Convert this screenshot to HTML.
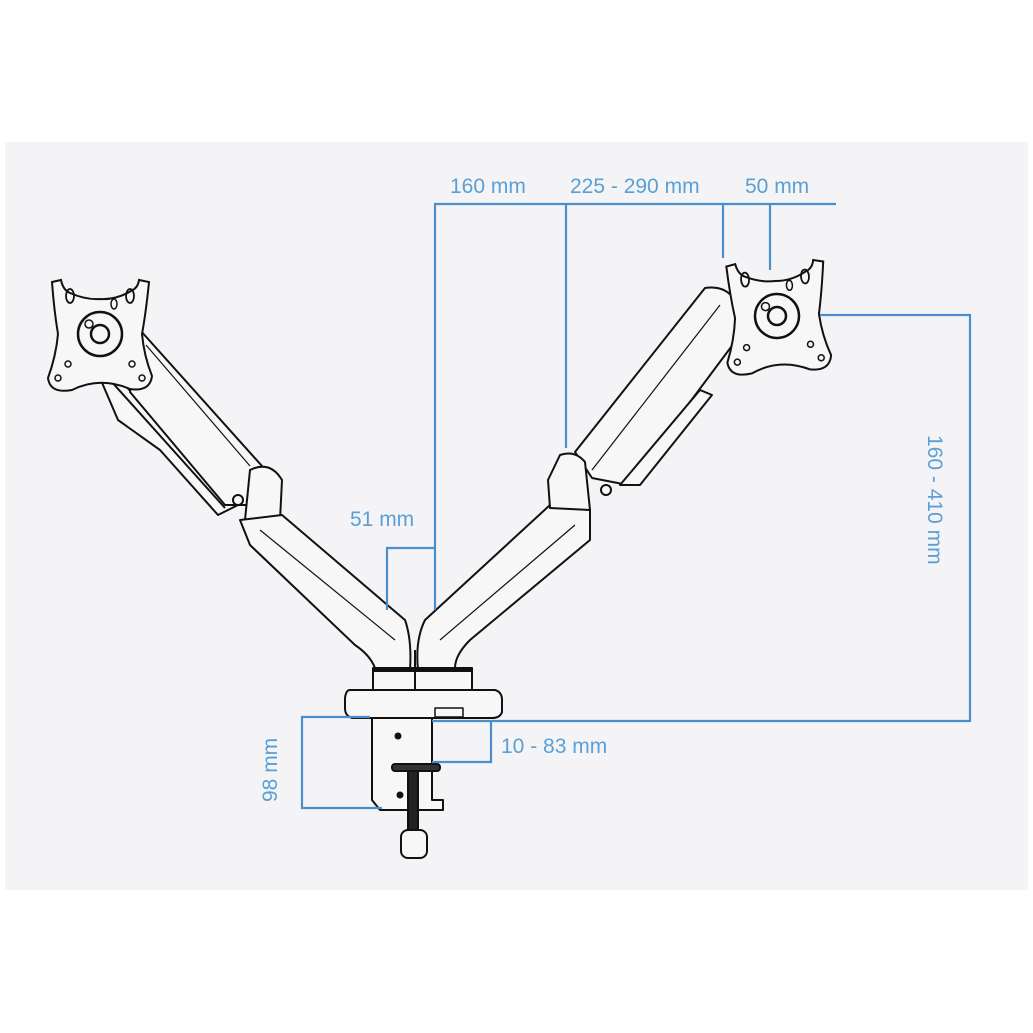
<!DOCTYPE html>
<html><head><meta charset="utf-8"><style>
html,body{margin:0;padding:0;background:#fff;}
svg{display:block;}
text{font-family:"Liberation Sans",sans-serif;fill:#5a9fd6;font-size:21px;}
</style></head><body>
<svg width="1033" height="1033" viewBox="0 0 1033 1033" xmlns="http://www.w3.org/2000/svg">
<defs>
<g id="plate">
<path d="M -48,-52 L -39,-54 Q -37,-44 -30,-41 Q -14,-34 0,-35 Q 16,-34 31,-43 Q 38,-46 39,-54 L 49,-52 Q 46,-22 42,0 Q 44,22 52,42 Q 50,58 30,55 Q 0,42 -28,56 Q -50,60 -52,44 Q -44,22 -42,0 Q -46,-24 -48,-52 Z" fill="#f7f7f8" stroke="#111" stroke-width="2"/>
<ellipse cx="-30" cy="-38" rx="4" ry="7" fill="none" stroke="#111" stroke-width="1.8"/>
<ellipse cx="30" cy="-38" rx="4" ry="7" fill="none" stroke="#111" stroke-width="1.8"/>
<ellipse cx="14" cy="-30" rx="3" ry="5" fill="none" stroke="#111" stroke-width="1.5"/>
<circle cx="0" cy="0" r="22" fill="none" stroke="#111" stroke-width="2.5"/>
<circle cx="0" cy="0" r="9" fill="none" stroke="#111" stroke-width="2.5"/>
<circle cx="-11" cy="-10" r="4" fill="none" stroke="#111" stroke-width="1.5"/>
<circle cx="-32" cy="30" r="3" fill="none" stroke="#111" stroke-width="1.5"/>
<circle cx="32" cy="30" r="3" fill="none" stroke="#111" stroke-width="1.5"/>
<circle cx="-42" cy="44" r="3" fill="none" stroke="#111" stroke-width="1.5"/>
<circle cx="42" cy="44" r="3" fill="none" stroke="#111" stroke-width="1.5"/>
</g>
</defs>
<rect x="5" y="142" width="1023" height="748" fill="#f4f4f6"/>

<g fill="#f7f7f8" stroke="#111" stroke-width="2" stroke-linejoin="round">
<!-- left gas spring -->
<path d="M 100,378 L 118,378 L 238,505 L 218,515 L 160,450 L 118,420 Z"/>
<line x1="110" y1="380" x2="225" y2="508"/>
<!-- left upper arm -->
<path d="M 140,330 L 262,466 L 250,505 L 225,505 L 130,392 Z"/>
<line x1="146" y1="345" x2="250" y2="466" stroke-width="1.2"/>
<!-- left joint -->
<path d="M 250,470 Q 270,460 282,480 L 280,520 L 245,520 Z"/>
<circle cx="238" cy="500" r="5"/>
<!-- lower left arm -->
<path d="M 240,520 L 282,515 L 405,620 Q 412,640 410,670 L 375,668 Q 370,655 355,645 L 250,545 Z"/>
<line x1="260" y1="530" x2="395" y2="640" stroke-width="1.2"/>
<!-- lower right arm -->
<path d="M 550,505 L 590,510 L 590,540 L 470,640 Q 455,655 455,668 L 418,670 Q 415,640 425,620 Z"/>
<line x1="575" y1="525" x2="440" y2="640" stroke-width="1.2"/>
<!-- right upper arm -->
<path d="M 575,452 L 705,288 Q 725,285 735,300 L 740,335 L 628,485 L 592,478 Z"/>
<line x1="592" y1="470" x2="720" y2="305" stroke-width="1.2"/>
<!-- right gas spring -->
<path d="M 620,485 L 700,390 L 712,395 L 640,485 Z"/>
<!-- right joint -->
<path d="M 560,455 Q 575,450 585,462 L 590,510 L 550,508 L 548,480 Z"/>
<circle cx="606" cy="490" r="5"/>
<!-- pillar -->
<path d="M 373,668 L 472,668 L 472,690 L 373,690 Z"/>
<line x1="373" y1="670" x2="472" y2="670" stroke-width="4"/>
<line x1="415" y1="650" x2="415" y2="690"/>
<!-- base -->
<path d="M 350,690 L 495,690 Q 502,692 502,700 L 502,712 Q 500,718 492,718 L 352,718 Q 345,716 345,708 L 345,698 Q 346,690 350,690 Z"/>
<rect x="435" y="708" width="28" height="9" stroke-width="1.5"/>
<!-- clamp -->
<path d="M 372,718 L 432,718 L 432,800 L 443,800 L 443,810 L 380,810 L 372,800 Z"/>
<circle cx="398" cy="736" r="2.5" fill="#111"/>
<circle cx="400" cy="795" r="2.5" fill="#111"/>
<rect x="408" y="770" width="10" height="62" fill="#222"/>
<rect x="392" y="764" width="48" height="7" rx="3" fill="#333"/>
<rect x="401" y="830" width="26" height="28" rx="7"/>
</g>

<use href="#plate" transform="translate(100,334)"/>
<use href="#plate" transform="translate(777,316) rotate(-3)"/>

<g stroke="#4a8fcc" stroke-width="2.2" fill="none">
<polyline points="836,204 435,204 435,610"/>
<line x1="566" y1="204" x2="566" y2="448"/>
<line x1="723" y1="204" x2="723" y2="258"/>
<line x1="770" y1="204" x2="770" y2="270"/>
<polyline points="387,610 387,548 435,548"/>
<polyline points="820,315 970,315 970,721 432,721"/>
<polyline points="432,762 491,762 491,721"/>
<polyline points="370,717 302,717 302,808 382,808"/>
</g>

<text x="450" y="193">160 mm</text>
<text x="570" y="193">225 - 290 mm</text>
<text x="745" y="193">50 mm</text>
<text x="350" y="526">51 mm</text>
<text x="501" y="753">10 - 83 mm</text>
<text transform="translate(928,435) rotate(90)">160 - 410 mm</text>
<text transform="translate(277,802) rotate(-90)">98 mm</text>
</svg>
</body></html>
